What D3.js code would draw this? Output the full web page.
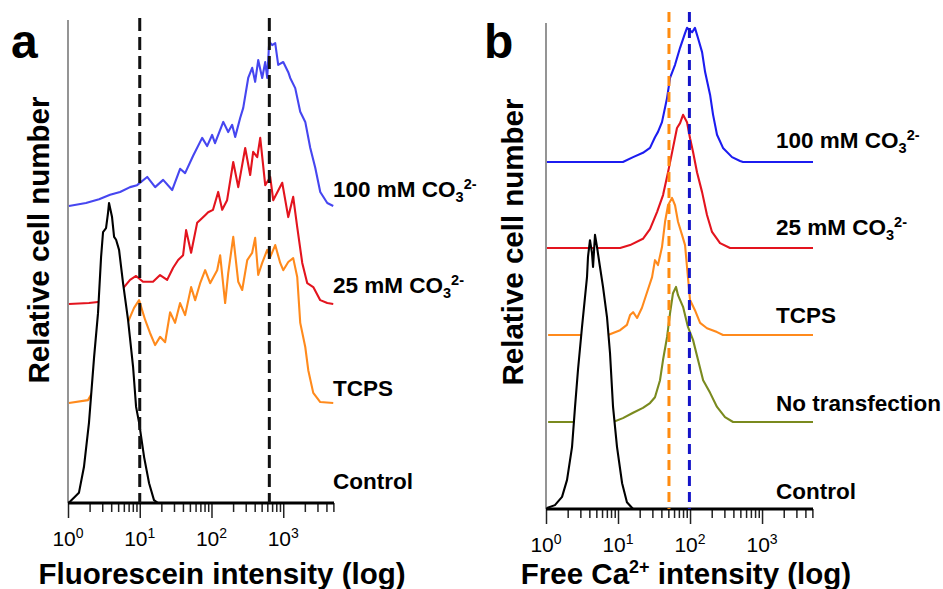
<!DOCTYPE html>
<html><head><meta charset="utf-8">
<script src="https://cdn.jsdelivr.net/npm/d3@7"></script>
<style>
body{margin:0;background:#fff}
svg{display:block}
text{font-family:"Liberation Sans",Arial,Helvetica,sans-serif;fill:#000}
</style>
</head><body>
<svg id="c" width="943" height="589"></svg>
<script>
// ---------- shared ----------
const xDomain = [1, 5100];
const majorTicks = [1, 10, 100, 1000];
const majorTickExps = ["0", "1", "2", "3"];

// ---------- panel a : Fluorescein intensity ----------
const aNames = ["100 mM CO", "25 mM CO", "TCPS", "Control"];
const aNameSub = ["3", "3", "", ""];
const aNameSup = ["2-", "2-", "", ""];
const aColors = ["#4646f0", "#e3141e", "#ff8a1c", "#000000"];
const aOffsets = [61.5, 41.2, 20.7, 0];
const aDashes = [10, 640];

const aBlueX = [1.03,1.78,2.71,3.86,5.32,7.33,9.18,12.7,16.4,21.2,28.3,36.5,42.9,55.5,74.1,86.9,102,112,146,171,194,214,251,277,325,369,406,448,509,561,598,638,702,773,851,1000,1175,1251,1469,1726,2028,2382,2794,3281,4111,4977];
const aBlueY = [0,0.6,1.4,2.3,2.9,3.9,4.3,6.0,3.9,5.4,3.3,7.7,6.8,10.4,14.1,12.4,14.7,13.0,17.4,15.3,16.8,14.3,18.2,20.3,26.5,28.6,25.7,30.2,26.5,29.8,26.5,34.0,33.3,33.7,29.2,29.8,27.7,26.5,24.4,19.5,17.4,12.0,7.9,2.9,0.6,0];

const aRedX = [1.03,1.96,2.62,3.86,6.04,7.33,8.89,11.1,15.3,19.2,24.1,29.2,34.3,40.2,44.3,52.0,63.1,69.5,81.6,89.8,105,124,141,165,201,236,295,346,381,434,478,561,658,725,968,1175,1377,1567,1841,2161,2621,3281,4111,4977];
const aRedY = [0,0.2,0.4,1.7,3.5,5.0,5.8,4.6,4.6,6.0,5.0,7.5,9.1,10.1,15.3,10.6,16.8,17.4,18.4,19.0,19.5,23.2,19.5,21.5,29.4,24.2,32.3,26.7,31.5,30.4,34.4,24.6,26.3,21.5,25.1,18.0,22.2,15.9,8.5,4.3,3.5,0.8,0.2,0];

const aOrangeX = [1.03,1.90,3.28,4.99,6.87,8.33,9.79,11.9,13.9,16.4,19.2,22.6,26.5,31.1,36.5,42.9,52.0,59.2,69.5,81.6,95.8,120,132,155,171,201,236,268,315,369,406,448,509,598,658,773,908,1000,1175,1377,1567,1726,2028,2233,2621,3281,4977];
const aOrangeY = [0,0.6,6.8,13.0,16.8,19.7,21.3,17.2,14.5,12.0,13.7,12.6,18.8,16.6,20.7,18.2,24.0,21.3,24.8,27.5,24.8,27.5,30.6,20.7,26.9,34.4,25.1,23.4,29.6,31.1,34.2,26.5,29.0,31.7,30.2,32.7,29.0,27.5,29.2,30.0,26.1,16.6,11.6,6.8,2.1,0.2,0];

const aBlackX = [1.02,1.42,1.67,1.96,2.31,2.62,2.89,3.08,3.39,3.61,3.73,4.11,4.39,4.68,5.15,5.85,6.87,8.07,8.89,9.8,11.5,13.5,15.8,18.0,5100];
const aBlackY = [0,2.1,7.5,16.6,30.2,39.3,50.9,56.1,56.9,60.0,62.1,59.2,55.1,54.5,52.4,45.5,37.9,28.2,19.9,16.6,9.5,4.1,0.6,0,0];

// ---------- panel b : Free Ca2+ intensity ----------
const bNames = ["100 mM CO", "25 mM CO", "TCPS", "No transfection", "Control"];
const bNameSub = ["3", "3", "", "", ""];
const bNameSup = ["2-", "2-", "", "", ""];
const bColors = ["#1c1cf0", "#e3141e", "#ff8a1c", "#7a8a1e", "#000000"];
const bOffsets = [71.4, 53.7, 35.8, 17.9, 0];
const bDashes = [51, 98];
const bDashColors = ["#ff8c10", "#1414c8"];

const bBlueX = [1.03,11.7,16.2,22.2,27.8,32.6,35.9,40.8,48.0,52.8,61.9,72.7,85.3,90.8,107,117,129,147,162,190,209,237,287,383,495,545,5100];
const bBlueY = [0,0,1.0,1.9,2.9,5.1,6.2,8.2,13.2,17.3,20.0,23.5,26.5,27.6,26.7,27.6,25.5,22.6,18.5,13.8,9.7,5.6,2.9,1.0,0.2,0,0];

const bRedX = [1.03,10.7,14.7,22.2,27.8,34.8,42.2,49.5,58.0,65.9,72.7,80.0,90.8,100,110,125,147,172,202,261,359,5100];
const bRedY = [0,0,0.6,1.9,3.9,7.4,10.9,15.6,20.6,24.7,25.7,27.4,25.9,22.6,19.8,15.6,11.5,6.8,3.3,1.0,0,0];

const bOrangeX = [1.07,2.97,7.26,10.7,13.3,14.7,16.2,18.4,21.5,25.3,29.7,32.6,35.9,40.8,45.0,49.5,56.2,61.9,68.1,77.4,85.3,90.8,100,117,138,172,237,287,5100];
const bOrangeY = [0,0,0,1.0,2.1,4.1,4.7,3.5,5.6,8.8,11.9,15.4,14.4,18.1,23.3,26.7,28.2,26.7,23.3,20.6,18.5,14.0,7.2,5.1,2.5,1.4,0.6,0,0];

const bOliveX = [1.07,2.30,8.53,11.7,16.2,22.2,27.8,32.6,38.3,42.2,48.0,52.8,58.0,63.9,68.1,80.0,93.8,110,129,152,190,237,306,396,5100];
const bOliveY = [0,0,0,0.8,1.9,2.9,3.9,5.1,8.6,12.8,17.5,22.4,26.5,27.8,26.1,23.7,19.5,16.9,12.8,8.6,6.0,3.1,1.0,0,0];

const bBlackX = [1.03,1.33,1.67,1.96,2.30,2.53,2.78,3.16,3.48,3.71,3.83,4.08,4.35,4.50,4.79,5.11,5.62,6.19,7.03,7.74,8.53,9.68,11.4,13.3,16.2,5100];
const bBlackY = [0.2,0.8,2.5,6.0,12.8,21.0,28.6,37.4,43.6,47.7,51.9,55.3,52.7,49.8,56.4,53.9,49.8,45.7,39.5,32.1,21.0,12.8,5.3,1.4,0,0];

const svg = d3.select("#c");

function drawPanel(cfg) {
  const g = svg.append("g");
  const x = d3.scaleLog().domain(xDomain).range([cfg.left, cfg.right]);
  const y = d3.scaleLinear().domain([0, 100]).range([cfg.base, cfg.top]);

  // y axis line
  g.append("line")
    .attr("x1", cfg.left).attr("x2", cfg.left)
    .attr("y1", cfg.top).attr("y2", cfg.base)
    .attr("stroke", "#7a7a7a").attr("stroke-width", 1.6);

  // ticks
  const isMajor = v => majorTicks.some(m => Math.abs(Math.log10(v) - Math.log10(m)) < 1e-9);
  const minorVals = x.ticks().filter(v => !isMajor(v));
  const minorAxis = g.append("g").attr("transform", `translate(0,${cfg.base})`)
    .call(d3.axisBottom(x).tickValues(minorVals).tickSize(9).tickFormat(""));
  const majorAxis = g.append("g").attr("transform", `translate(0,${cfg.base})`)
    .call(d3.axisBottom(x).tickValues(majorTicks).tickSize(15).tickFormat(""));
  [minorAxis, majorAxis].forEach(a => {
    a.select(".domain").remove();
    a.selectAll(".tick line").attr("stroke", "#222").attr("stroke-width", 1.5);
  });

  // tick labels with superscripts
  majorTicks.forEach((v, i) => {
    const t = g.append("text")
      .attr("x", x(v)).attr("y", cfg.base + 43)
      .attr("text-anchor", "middle")
      .attr("font-size", 21).attr("fill", "#111");
    t.append("tspan").text("10");
    t.append("tspan").attr("font-size", 14).attr("dy", -8).text(majorTickExps[i]);
  });

  // curves
  const line = d3.line().x(d => x(d[0])).y(d => y(d[1]));
  const area = d3.area().x(d => x(d[0])).y0(y(0)).y1(d => y(d[1]));
  cfg.series.forEach((s, i) => {
    const data = s.x.map((v, j) => [v, s.y[j] + cfg.offsets[i]]);
    if (s.fill) {
      g.append("path").attr("d", area(data)).attr("fill", "#fff");
    }
    g.append("path").attr("d", line(data))
      .attr("fill", "none")
      .attr("stroke", cfg.colors[i])
      .attr("stroke-width", 2.1)
      .attr("stroke-linejoin", "round");
  });

  // baseline (x axis line)
  g.append("line")
    .attr("x1", cfg.left).attr("x2", cfg.right)
    .attr("y1", cfg.base).attr("y2", cfg.base)
    .attr("stroke", "#000").attr("stroke-width", 2.8);

  // dashed reference lines
  cfg.dashes.forEach((v, i) => {
    g.append("line")
      .attr("x1", x(v)).attr("x2", x(v))
      .attr("y1", cfg.dashTop).attr("y2", cfg.base)
      .attr("stroke", cfg.dashColors[i])
      .attr("stroke-width", 3)
      .attr("stroke-dasharray", cfg.dashPattern);
  });

  // series labels
  cfg.names.forEach((n, i) => {
    const t = g.append("text")
      .attr("x", cfg.labelX)
      .attr("y", y(cfg.offsets[i]) + cfg.labelDy[i])
      .attr("font-size", 22.5).attr("font-weight", "bold");
    t.append("tspan").text(n);
    if (cfg.sub[i]) t.append("tspan").attr("font-size", 14.5).attr("dy", 5).text(cfg.sub[i]);
    if (cfg.sup[i]) t.append("tspan").attr("font-size", 14.5).attr("dy", -13).text(cfg.sup[i]);
  });

  // axis titles
  const xt = g.append("text")
    .attr("x", cfg.xTitleX).attr("y", 584)
    .attr("text-anchor", "middle")
    .attr("font-size", 29.5).attr("font-weight", "bold");
  cfg.xTitle.forEach(p => {
    const ts = xt.append("tspan").text(p.t);
    if (p.sup) ts.attr("font-size", 18).attr("dy", -11);
    if (p.after) ts.attr("dy", 11);
  });

  g.append("text")
    .attr("transform", `translate(${cfg.yTitleX},${cfg.yTitleY}) rotate(-90)`)
    .attr("text-anchor", "middle")
    .attr("font-size", 29.5).attr("font-weight", "bold")
    .text("Relative cell number");

  // panel letter
  g.append("text")
    .attr("x", cfg.letterX).attr("y", 58)
    .attr("font-size", 48).attr("font-weight", "bold")
    .text(cfg.letter);
}

drawPanel({
  left: 68, right: 334, base: 503, top: 20, dashTop: 18,
  series: [
    {x: aBlueX, y: aBlueY},
    {x: aRedX, y: aRedY},
    {x: aOrangeX, y: aOrangeY},
    {x: aBlackX, y: aBlackY, fill: true}
  ],
  offsets: aOffsets, colors: aColors,
  dashes: aDashes, dashColors: ["#111", "#111"], dashPattern: "13,6",
  names: aNames, sub: aNameSub, sup: aNameSup,
  labelX: 333, labelDy: [-9, -11, -7, -14],
  xTitle: [{t: "Fluorescein intensity (log)"}], xTitleX: 222,
  yTitleX: 49, yTitleY: 240,
  letter: "a", letterX: 11
});

drawPanel({
  left: 546, right: 813, base: 509, top: 23, dashTop: 12,
  series: [
    {x: bBlueX, y: bBlueY},
    {x: bRedX, y: bRedY},
    {x: bOrangeX, y: bOrangeY},
    {x: bOliveX, y: bOliveY},
    {x: bBlackX, y: bBlackY, fill: true}
  ],
  offsets: bOffsets, colors: bColors,
  dashes: bDashes, dashColors: bDashColors, dashPattern: "10,6",
  names: bNames, sub: bNameSub, sup: bNameSup,
  labelX: 776, labelDy: [-14, -13, -12, -11, -10],
  xTitle: [{t: "Free Ca"}, {t: "2+", sup: true}, {t: " intensity (log)", after: true}], xTitleX: 686,
  yTitleX: 523, yTitleY: 242,
  letter: "b", letterX: 484
});
</script>
</body></html>
